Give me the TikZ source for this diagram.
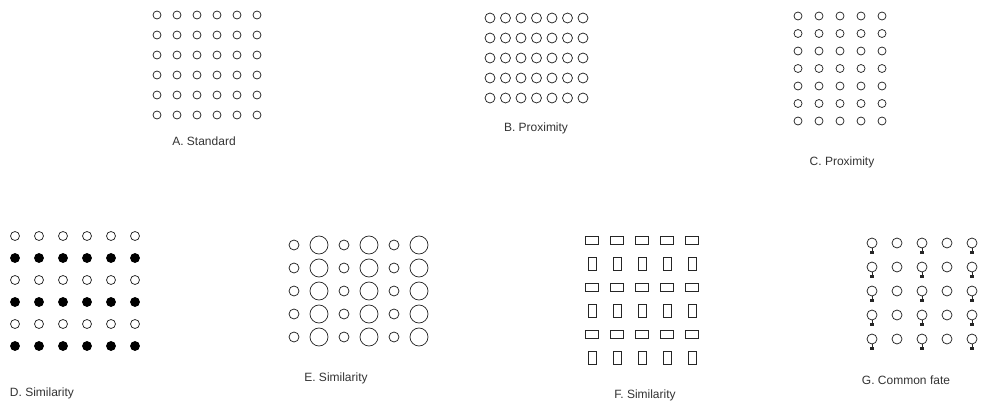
\documentclass[tikz,border=0pt]{standalone}
\usepackage{fontspec}
\setmainfont{Liberation Sans}
\usetikzlibrary{positioning}

\begin{document}
\begin{tikzpicture}[x=1pt, y=-1pt,
    % estilos dos elementos
    dot/.style={circle, draw=black!85, line width=0.75pt, inner sep=0pt, minimum size=8pt},
    dotFull/.style={dot, fill=black, draw=black},
    dotBig/.style={dot, minimum size=18pt},
    dotMid/.style={dot, minimum size=10pt},
    rectH/.style={rectangle, draw=black!85, line width=0.75pt, inner sep=0pt, minimum width=13pt, minimum height=8pt},
    rectV/.style={rectangle, draw=black!85, line width=0.75pt, inner sep=0pt, minimum width=8pt, minimum height=13pt},
    haste/.style={draw=black!85, line width=0.75pt},
    legenda/.style={font=\fontsize{12}{14}\selectfont, text=black!80}
]
\useasboundingbox (0,0) rectangle (990,404);

% ==========================
% ORIGENS DOS PADROES
% ==========================
\def\XA{157}  \def\YA{15}
\def\XB{490}  \def\YB{18}
\def\XC{798}  \def\YC{16}
\def\XD{15}   \def\YD{236}
\def\XE{294}  \def\YE{245}
\def\XF{592}  \def\YF{240}
\def\XG{872}  \def\YG{243}

% ==========================
% A. STANDARD
% ==========================
\foreach \i in {0,...,5} \foreach \j in {0,...,5}
    \node[dot] (a-\i-\j) at (\XA+20*\i, \YA+20*\j) {};
\node[legenda] (legA) at (204, 141) {A. Standard};

% ==========================
% B. PROXIMITY (linhas)
% ==========================
\foreach \i in {0,...,6} \foreach \j in {0,...,4}
    \node[dotMid] (b-\i-\j) at (\XB+15.5*\i, \YB+20*\j) {};
\node[legenda] (legB) at (536, 128) {B. Proximity};

% ==========================
% C. PROXIMITY (colunas)
% ==========================
\foreach \i in {0,...,4} \foreach \j in {0,...,6}
    \node[dot] (c-\i-\j) at (\XC+21*\i, \YC+17.5*\j) {};
\node[legenda] (legC) at (842, 162) {C. Proximity};

% ==========================
% D. SIMILARITY (cheio / vazio)
% ==========================
\foreach \i in {0,...,5} {
    \foreach \j in {0,2,4} { \node[dot, minimum size=9pt] (d-\i-\j) at (\XD+24*\i, \YD+22*\j) {}; }
    \foreach \j in {1,3,5} { \node[dotFull, minimum size=9pt] (d-\i-\j) at (\XD+24*\i, \YD+22*\j) {}; }
}
\node[legenda] (legD) at (42, 393) {D. Similarity};

% ==========================
% E. SIMILARITY (tamanho)
% ==========================
\foreach \j in {0,...,4} {
    \foreach \i in {0,2,4} { \node[dotMid] (e-\i-\j) at (\XE+25*\i, \YE+23*\j) {}; }
    \foreach \i in {1,3,5} { \node[dotBig] (e-\i-\j) at (\XE+25*\i, \YE+23*\j) {}; }
}
\node[legenda] (legE) at (336, 378) {E. Similarity};

% ==========================
% F. SIMILARITY (forma)
% ==========================
\foreach \i in {0,...,4} {
    \foreach \j in {0,2,4} { \node[rectH] (f-\i-\j) at (\XF+25*\i, \YF+23.6*\j) {}; }
    \foreach \j in {1,3,5} { \node[rectV] (f-\i-\j) at (\XF+25*\i, \YF+23.6*\j) {}; }
}
\node[legenda] (legF) at (645, 395) {F. Similarity};

% ==========================
% G. COMMON FATE
% ==========================
\foreach \j in {0,...,4} {
    \foreach \i in {0,2,4} {
        \node[dotMid] (g-\i-\j) at (\XG+25*\i, \YG+24*\j) {};
        \draw[haste] (g-\i-\j.south) -- ++(0,2.5) coordinate (gb-\i-\j);
        \fill[black!85] (gb-\i-\j) ++(-1.6,0) rectangle ++(3.2,3);
    }
    \foreach \i in {1,3} { \node[dotMid] (g-\i-\j) at (\XG+25*\i, \YG+24*\j) {}; }
}
\node[legenda] (legG) at (906, 380) {G. Common fate};

\end{tikzpicture}
\end{document}
